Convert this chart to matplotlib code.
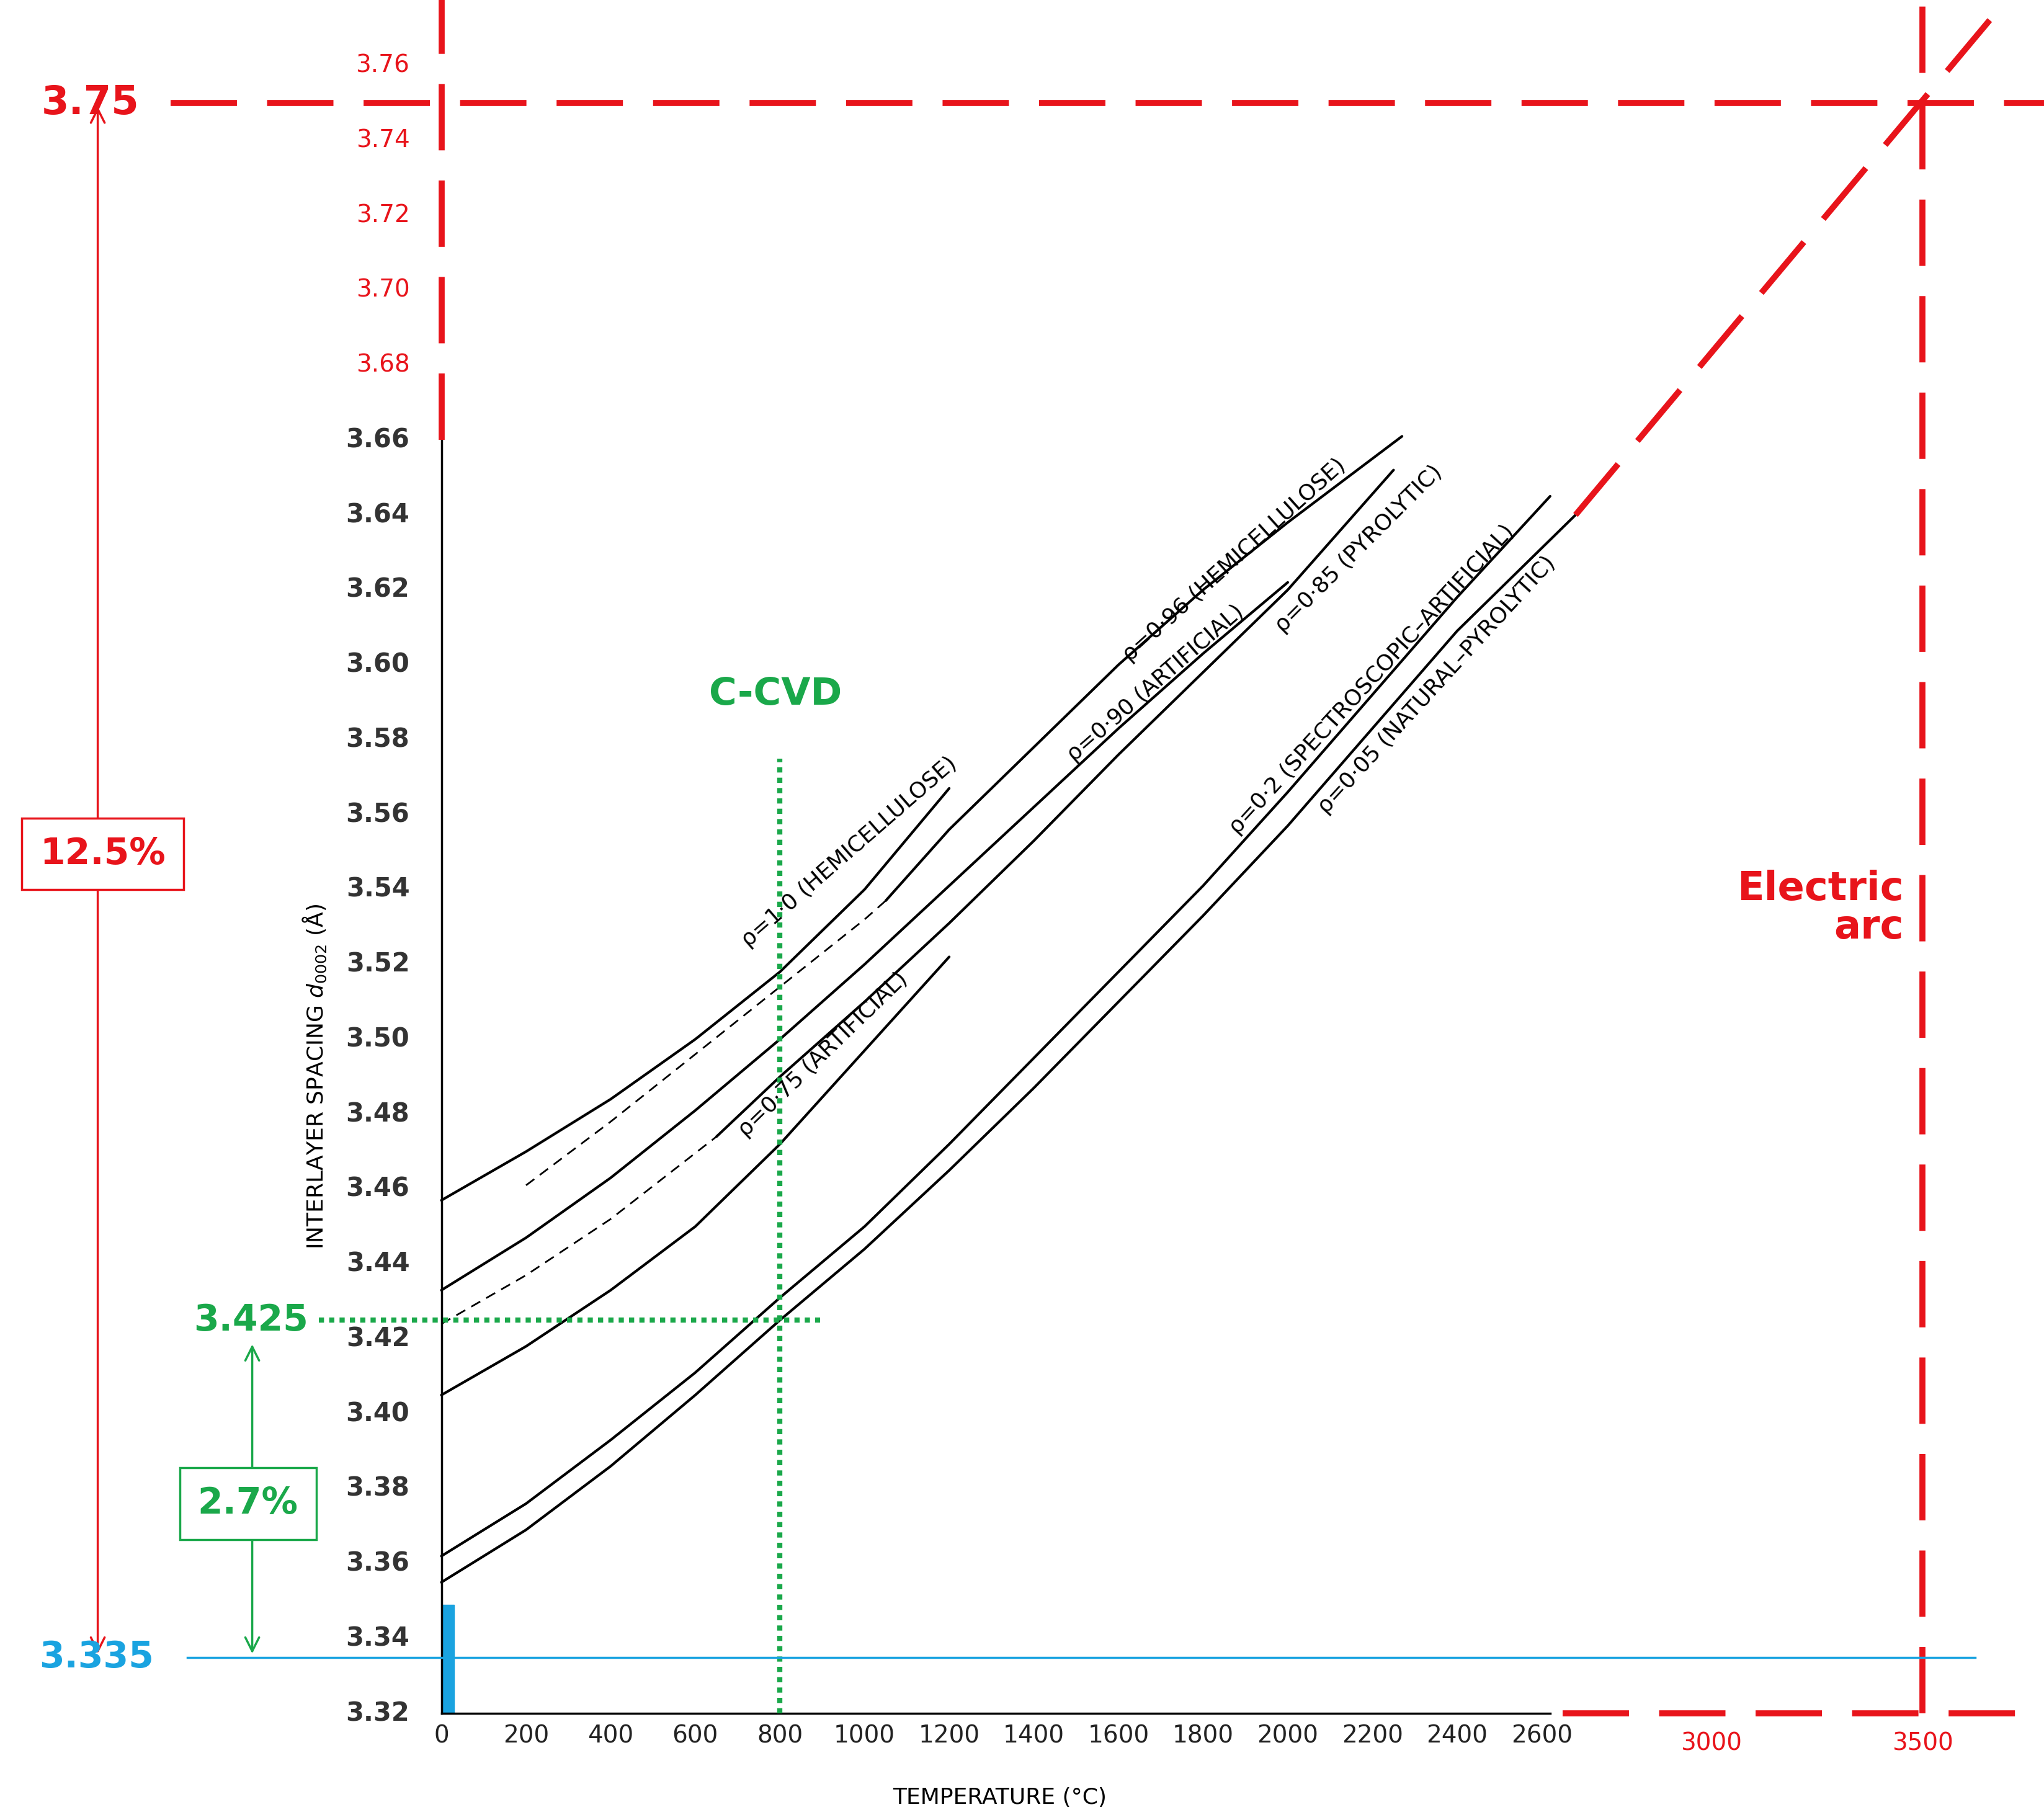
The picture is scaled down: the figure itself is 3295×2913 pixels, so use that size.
import matplotlib
matplotlib.use("Agg")
import matplotlib.pyplot as plt

# ---- data ----
t_p10 = [0, 200, 400, 600, 800, 1000, 1200]
d_p10 = [3.457, 3.470, 3.484, 3.500, 3.518, 3.540, 3.567]
t_p96_dash = [200, 400, 600, 800, 1000, 1050]
d_p96_dash = [3.461, 3.478, 3.496, 3.514, 3.532, 3.537]
t_p96 = [1050, 1200, 1400, 1600, 1800, 2000, 2270]
d_p96 = [3.537, 3.556, 3.578, 3.600, 3.620, 3.638, 3.661]
t_p90 = [0, 200, 400, 600, 800, 1000, 1200, 1400, 1600, 1800, 2000]
d_p90 = [3.433, 3.447, 3.463, 3.481, 3.500, 3.520, 3.541, 3.562, 3.583, 3.603, 3.622]
t_p85_dash = [0, 200, 400, 650]
d_p85_dash = [3.424, 3.437, 3.452, 3.474]
t_p85 = [650, 800, 1000, 1200, 1400, 1600, 1800, 2000, 2250]
d_p85 = [3.474, 3.490, 3.510, 3.531, 3.553, 3.576, 3.598, 3.620, 3.652]
t_p75 = [0, 200, 400, 600, 800, 1000, 1200]
d_p75 = [3.405, 3.418, 3.433, 3.450, 3.472, 3.497, 3.522]
t_p02 = [0, 200, 400, 600, 800, 1000, 1200, 1400, 1600, 1800, 2000, 2200, 2400, 2620]
d_p02 = [3.362, 3.376, 3.393, 3.411, 3.431, 3.450, 3.472, 3.495, 3.518, 3.541, 3.566, 3.592, 3.618, 3.645]
t_p005 = [0, 200, 400, 600, 800, 1000, 1200, 1400, 1600, 1800, 2000, 2200, 2400, 2680]
d_p005 = [3.355, 3.369, 3.386, 3.405, 3.425, 3.444, 3.465, 3.487, 3.510, 3.533, 3.557, 3.583, 3.609, 3.640]
t_arc = [2680, 3680]
d_arc = [3.640, 3.775]

x_ticks = [0, 200, 400, 600, 800, 1000, 1200, 1400, 1600, 1800, 2000, 2200, 2400, 2600]
x_ticks_red = [3000, 3500]
y_ticks = [3.32, 3.34, 3.36, 3.38, 3.40, 3.42, 3.44, 3.46, 3.48, 3.50, 3.52, 3.54,
           3.56, 3.58, 3.60, 3.62, 3.64, 3.66]
y_ticks_red = [3.68, 3.70, 3.72, 3.74, 3.76]

labels = [
    ("ρ=1·0 (HEMICELLULOSE)", 963, 3.550, 41),
    ("ρ=0·96 (HEMICELLULOSE)", 1873, 3.628, 42),
    ("ρ=0·90 (ARTIFICIAL)", 1688, 3.595, 41),
    ("ρ=0·85 (PYROLYTIC)", 2167, 3.631, 45),
    ("ρ=0·75 (ARTIFICIAL)", 901, 3.496, 44),
    ("ρ=0·2 (SPECTROSCOPIC–ARTIFICIAL)", 2198, 3.596, 47.5),
    ("ρ=0·05 (NATURAL–PYROLYTIC)", 2352, 3.5946, 47.5),
]

RED = "#e8141b"
GREEN = "#1aa84a"
BLUE = "#1aa3e0"

fig = plt.figure(figsize=(32.95, 29.13), dpi=100)
ax = fig.add_axes([0, 0, 1, 1])
ax.set_xlim(-1043, 3787)
ax.set_ylim(3.295, 3.7775)
ax.axis("off")

lw = 3
for t, d in [(t_p10, d_p10), (t_p96, d_p96), (t_p90, d_p90), (t_p85, d_p85),
             (t_p75, d_p75), (t_p02, d_p02), (t_p005, d_p005)]:
    ax.plot(t, d, color="black", lw=lw, solid_capstyle="round", solid_joinstyle="round")
for t, d in [(t_p96_dash, d_p96_dash), (t_p85_dash, d_p85_dash)]:
    ax.plot(t, d, color="black", lw=2, dashes=(6, 4))

# axes lines
ax.plot([0, 0], [3.32, 3.66], color="black", lw=2.5)
ax.plot([0, 2620], [3.32, 3.32], color="black", lw=2.5)

for v in y_ticks:
    ax.text(-75, v, f"{v:.2f}", ha="right", va="center", fontsize=30,
            fontweight="bold", color="#333333")
for v in x_ticks:
    ax.text(v, 3.314, str(v), ha="center", va="center", fontsize=28, color="#222222")
for v in y_ticks_red:
    ax.text(-75, v, f"{v:.2f}", ha="right", va="center", fontsize=28, color=RED)
for v in x_ticks_red:
    ax.text(v, 3.312, str(v), ha="center", va="center", fontsize=28, color=RED)

ax.text(-300, 3.49, "INTERLAYER SPACING $d_{0002}$ (Å)", rotation=90, ha="center",
        va="center", fontsize=26)
ax.text(1320, 3.2975, "TEMPERATURE (°C)", ha="center", va="center", fontsize=26)

for txt, x, y, r in labels:
    ax.text(x, y, txt, rotation=r, ha="center", va="center", fontsize=26,
            rotation_mode="anchor")

# red annotations
rd = dict(color=RED, lw=7, dashes=(11, 5))
ax.plot([0, 0], [3.66, 3.7775], **rd)
ax.plot([-640, 3787], [3.75, 3.75], **rd)
ax.plot([3500, 3500], [3.32, 3.7775], **rd)
ax.plot([2650, 3787], [3.32, 3.32], **rd)
ax.plot(t_arc, d_arc, **rd)
ax.text(-830, 3.75, "3.75", ha="center", va="center", fontsize=46,
        fontweight="bold", color=RED)
ax.annotate("", xy=(-812, 3.3355), xytext=(-812, 3.7495),
            arrowprops=dict(arrowstyle="<->", color=RED, lw=2.5, mutation_scale=40))
ax.text(-800, 3.5495, "12.5%", ha="center", va="center", fontsize=42,
        fontweight="bold", color=RED,
        bbox=dict(boxstyle="square,pad=0.5", fc="white", ec=RED, lw=2.5))
ax.text(3455, 3.535, "Electric\narc", ha="right", va="center", fontsize=46,
        fontweight="bold", color=RED, linespacing=1.0)

# green annotations
ax.plot([800, 800], [3.32, 3.575], color=GREEN, lw=6, dashes=(1, 1))
ax.plot([-290, 895], [3.425, 3.425], color=GREEN, lw=6, dashes=(1, 1))
ax.text(790, 3.592, "C-CVD", ha="center", va="center", fontsize=44,
        fontweight="bold", color=GREEN)
ax.text(-450, 3.425, "3.425", ha="center", va="center", fontsize=42,
        fontweight="bold", color=GREEN)
ax.annotate("", xy=(-447, 3.3355), xytext=(-447, 3.419),
            arrowprops=dict(arrowstyle="<->", color=GREEN, lw=2.5, mutation_scale=40))
ax.text(-457, 3.376, "2.7%", ha="center", va="center", fontsize=42,
        fontweight="bold", color=GREEN,
        bbox=dict(boxstyle="square,pad=0.5", fc="white", ec=GREEN, lw=2.5))

# blue
ax.plot([-600, 3625], [3.335, 3.335], color=BLUE, lw=2.5)
ax.text(-815, 3.335, "3.335", ha="center", va="center", fontsize=42,
        fontweight="bold", color=BLUE)
ax.add_patch(plt.Rectangle((0, 3.32), 30, 0.029, color=BLUE))

fig.savefig("out.png", dpi=100)
